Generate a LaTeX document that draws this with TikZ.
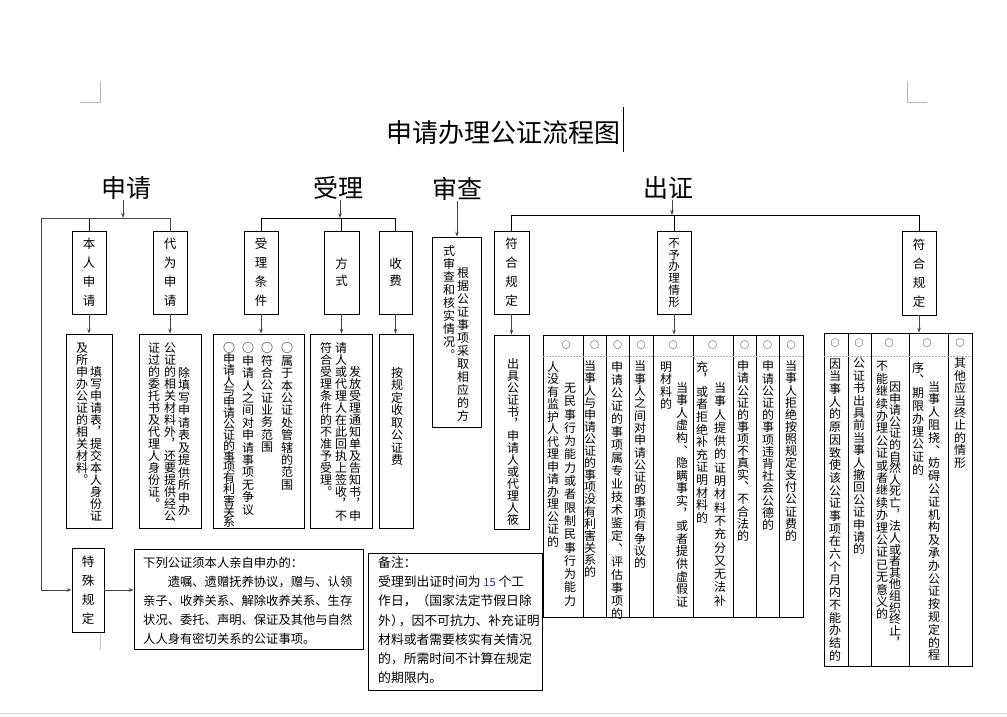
\documentclass[tikz,border=0pt]{standalone}
\usepackage{fontspec}
\setmainfont{Noto Sans CJK SC}
\usetikzlibrary{arrows.meta}
\definecolor{arrc}{RGB}{70,70,70}
\definecolor{cmk}{RGB}{185,185,185}
\definecolor{dshc}{RGB}{175,175,175}
\definecolor{numc}{RGB}{40,50,120}
\newdimen\vpitch
\def\vcolend{VCOLEND}
\def\vcol#1#2{\vpitch=#1pt\relax\vbox{\offinterlineskip\vcolaux#2\vcolend}}
\def\vcolaux#1{\ifx\vcolend#1\else\hbox to 14pt{\hss\vrule width 0pt height \dimexpr0.5\vpitch+0.38em\relax depth \dimexpr0.5\vpitch-0.38em\relax #1\hss}\expandafter\vcolaux\fi}
\newcommand\mybox[6]{\node[rbx,minimum width={(#4-#2)*1pt},minimum height={(#5-#3)*1pt}] (#1) at ({(#2+#4)/2},{(#3+#5)/2}) {#6};}
\begin{document}
\begin{tikzpicture}[x=1pt,y=-1pt,
  rbx/.style={draw,line width=0.8pt,inner sep=0pt,font=\fontsize{12.5}{12.5}\selectfont},
  arr/.style={draw=arrc,line width=0.7pt,-{Stealth[length=5pt,width=3.6pt]}},
  ln/.style={line width=0.8pt},
  vt/.style={inner sep=0pt,anchor=north,font=\fontsize{12}{12}\selectfont},
  head/.style={inner sep=0pt,font=\fontsize{25}{25}\selectfont},
  circ/.style={inner sep=0pt,font=\fontsize{9}{9}\selectfont},
  cmark/.style={draw=cmk,line width=0.8pt},
  dsh/.style={draw=dshc,line width=0.6pt,dash pattern=on 2pt off 1pt}]
\useasboundingbox (0,0) rectangle (1007,716);
% corner marks
\draw[cmark] (80,102) -- (100,102) -- (100,81);
\draw[cmark] (927,102) -- (907,102) -- (907,81);
\draw[draw=gray!35,line width=0.8pt] (0,713) -- (1007,713);
% title
\node[inner sep=0pt,font=\fontsize{26}{26}\selectfont] (title) at (503.5,133) {申请办理公证流程图};
\draw[line width=1.4pt] (623.5,107) -- (623.5,152);
% headings
\node[head] (hsq) at (126,188) {申请};
\node[head] (hsl) at (338,188) {受理};
\node[head] (hsc) at (457,189) {审查};
\node[head] (hcz) at (668,188) {出证};
% ===== 申请 =====
\mybox{bb}{72}{231}{106}{314}{\vcol{19}{本人申请}}
\mybox{dw}{153}{231}{187}{314}{\vcol{19}{代为申请}}
\mybox{bbt}{66}{334}{112}{528}{}
\mybox{dwt}{139}{334}{201}{528}{}
\mybox{ts}{72}{548}{104}{632}{\vcol{19}{特殊规定}}
\mybox{xl}{134}{549}{363}{649}{}
\coordinate (jsq) at (123,218);
\coordinate (jleft) at (41,218);
\draw[ln] (bb.north) -- (bb.north |- jsq);
\draw[arr] (dw.north) |- (jleft) |- (ts.west);
\draw[arr] (hsq.south -| jsq) -- (jsq);
\draw[arr] (bb.south) -- (bb.south |- bbt.north);
\draw[arr] (dw.south) -- (dw.south |- dwt.north);
\draw[arr] (ts.east) -- (ts.east -| xl.west);
\draw[draw=gray!45,line width=0.8pt] (100,633) -- (100,650);
\node[vt] (v1) at (96,366) {\vcol{12}{填写申请表︐提交本人身份证}};
\node[vt] (v2) at (82,342) {\vcol{12}{及所申办公证的相关材料︒}};
\node[vt] (v3) at (184,366) {\vcol{12.5}{除填写申请表及提供所申办}};
\node[vt] (v4) at (170,342) {\vcol{12}{公证的相关材料外︐还要提供经公}};
\node[vt] (v5) at (154,342) {\vcol{12}{证过的委托书及代理人身份证︒}};
\node[anchor=north west,inner sep=0pt,align=left,font=\fontsize{12.3}{19}\selectfont] (xltx) at (143,556.5) {下列公证须本人亲自申办的：\\\hspace*{2em}遗嘱、遗赠抚养协议，赠与、认领\\亲子、收养关系、解除收养关系、生存\\状况、委托、声明、保证及其他与自然\\人人身有密切关系的公证事项。};
% ===== 受理 =====
\mybox{tj}{244}{231}{278}{314}{\vcol{19}{受理条件}}
\mybox{fs}{324}{231}{359}{314}{\vcol{17}{方式}}
\mybox{sf}{379}{231}{412}{314}{\vcol{17}{收费}}
\mybox{tjt}{213}{334}{304}{528}{}
\mybox{fst}{310}{334}{372}{528}{}
\mybox{sft}{379}{334}{413}{528}{}
\coordinate (jsl) at (340,218);
\draw[ln] (tj.north) |- (sf.north |- jsl) -- (sf.north);
\draw[ln] (fs.north) -- (fs.north |- jsl);
\draw[arr] (hsl.south -| jsl) -- (jsl);
\draw[arr] (tj.south) -- (tj.south |- tjt.north);
\draw[arr] (fs.south) -- (fs.south |- fst.north);
\draw[arr] (sf.south) -- (sf.south |- sft.north);
\node[vt] (v6) at (287,342) {\vcol{12.4}{○属于本公证处管辖的范围}};
\node[vt] (v7) at (267,342) {\vcol{12.3}{○符合公证业务范围}};
\node[vt] (v8) at (248,342) {\vcol{12.4}{○申请人之间对申请事项无争议}};
\node[vt] (v9) at (229,342) {\vcol{10.6}{○申请人与申请公证的事项有利害关系}};
\node[vt] (v10) at (355,366) {\vcol{12}{发放受理通知单及告知书︐申}};
\node[vt] (v11) at (341,342) {\vcol{12}{请人或代理人在此回执上签收︐不}};
\node[vt] (v12) at (326,342) {\vcol{12}{符合受理条件的不准予受理︒}};
\node[vt] (v13) at (397,366) {\vcol{12.5}{按规定收取公证费}};
% ===== 审查 =====
\mybox{sc}{432}{237}{481}{427}{}
\draw[arr] (hsc.south) -- (hsc.south |- sc.north);
\node[vt] (v14) at (463,266) {\vcol{13}{根据公证事项采取相应的方}};
\node[vt] (v15) at (449,244) {\vcol{13}{式审查和核实情况︒}};
% ===== 出证 =====
\mybox{fh}{494}{231}{529}{314}{\vcol{19}{符合规定}}
\mybox{bz}{657}{231}{691}{314}{\fontsize{11.5}{11.5}\selectfont\vcol{11.8}{不予办理情形}}
\mybox{fr}{902}{231}{936}{315}{\vcol{19}{符合规定}}
\mybox{cjt}{494}{335}{529}{529}{}
% middle table
\mybox{c1}{543}{335}{583}{617}{}
\mybox{c2}{583}{335}{606}{617}{}
\mybox{c3}{606}{335}{629}{617}{}
\mybox{c4}{629}{335}{653}{617}{}
\mybox{c5}{653}{335}{693}{617}{}
\mybox{c6}{693}{335}{733}{617}{}
\mybox{c7}{733}{335}{756}{617}{}
\mybox{c8}{756}{335}{779}{617}{}
\mybox{c9}{779}{335}{803}{617}{}
% right table
\mybox{d1}{824}{333}{848}{666}{}
\mybox{d2}{848}{333}{871}{666}{}
\mybox{d3}{871}{333}{909}{666}{}
\mybox{d4}{909}{333}{948}{666}{}
\mybox{d5}{948}{333}{972}{666}{}
\coordinate (jcz) at (672,215);
\coordinate (dl) at (0,356);
\draw[ln] (fh.north) |- (fr.north |- jcz) -- (fr.north);
\draw[ln] (bz.north) -- (bz.north |- jcz);
\draw[arr] (hcz.south -| jcz) -- (jcz);
\draw[arr] (fh.south) -- (fh.south |- cjt.north);
\draw[arr] (bz.south) -- (bz.south |- c5.north);
\draw[arr] (fr.south) -- (fr.south |- d4.north);
\draw[dsh] (c1.west |- dl) -- (c9.east |- dl);
\draw[dsh] (d1.west |- dl) -- (d5.east |- dl);
\node[vt] (v16) at (513,358) {\vcol{12}{出具公证书︐申请人或代理人筱}};
% circles
\node[circ] (o1) at (566,345) {○};
\node[circ] (o2) at (594.5,345) {○};
\node[circ] (o3) at (617.5,345) {○};
\node[circ] (o4) at (641,345) {○};
\node[circ] (o5) at (673,345) {○};
\node[circ] (o6) at (712.5,345) {○};
\node[circ] (o7) at (744.5,345) {○};
\node[circ] (o8) at (767.5,345) {○};
\node[circ] (o9) at (791,345) {○};
\node[circ] (p1) at (835,343) {○};
\node[circ] (p2) at (859,343) {○};
\node[circ] (p3) at (889,343) {○};
\node[circ] (p4) at (927,343) {○};
\node[circ] (p5) at (960,343) {○};
% middle table texts
\node[vt] (v17) at (570,381) {\vcol{13.3}{无民事行为能力或者限制民事行为能力}};
\node[vt] (v18) at (553,360) {\vcol{12.5}{人没有监护人代理申请办理公证的}};
\node[vt] (v19) at (590,360) {\vcol{12.1}{当事人与申请公证的事项没有利害关系的}};
\node[vt] (v20) at (617,360) {\vcol{13}{申请公证的事项属专业技术鉴定︑评估事项的}};
\node[vt] (v21) at (640,360) {\vcol{12.3}{当事人之间对申请公证的事项有争议的}};
\node[vt] (v22) at (682,381) {\vcol{12.6}{当事人虚构︑隐瞒事实︐或者提供虚假证}};
\node[vt] (v23) at (666,360) {\vcol{12.6}{明材料的}};
\node[vt] (v24) at (720,381) {\vcol{13.3}{当事人提供的证明材料不充分又无法补}};
\node[vt] (v25) at (702,360) {\vcol{12.6}{充︐或者拒绝补充证明材料的}};
\node[vt] (v26) at (743,360) {\vcol{12.1}{申请公证的事项不真实︑不合法的}};
\node[vt] (v27) at (768,360) {\vcol{12.2}{申请公证的事项违背社会公德的}};
\node[vt] (v28) at (791,360) {\vcol{12.1}{当事人拒绝按照规定支付公证费的}};
% right table texts
\node[vt] (v29) at (835,357) {\vcol{12.7}{因当事人的原因致使该公证事项在六个月内不能办结的}};
\node[vt] (v30) at (859,357) {\vcol{12.4}{公证书出具前当事人撤回公证申请的}};
\node[vt] (v31) at (882,360) {\vcol{12.4}{不能继续办理公证或者继续办理公证已无意义的}};
\node[vt] (v32) at (895,381) {\vcol{11.6}{因申请公证的自然人死亡︐法人或者其他组织终止︐}};
\node[vt] (v33) at (918,361) {\vcol{12.8}{序︑期限办理公证的}};
\node[vt] (v34) at (934,380) {\vcol{12.8}{当事人阻挠︑妨碍公证机构及承办公证按规定的程}};
\node[vt] (v35) at (960,357) {\vcol{12.4}{其他应当终止的情形}};
% note box
\mybox{bzh}{368}{553}{542}{690}{}
\node[anchor=north west,inner sep=0pt,align=left,font=\fontsize{12.8}{19.2}\selectfont] (bztx) at (378,556.5) {备注：\\受理到出证时间为 {\color{numc}\fontsize{11}{11}\selectfont 15} 个工\\作日，（国家法定节假日除\\外）\kern-5pt，因不可抗力、补充证明\\材料或者需要核实有关情况\\的，所需时间不计算在规定\\的期限内。};
\end{tikzpicture}
\end{document}
